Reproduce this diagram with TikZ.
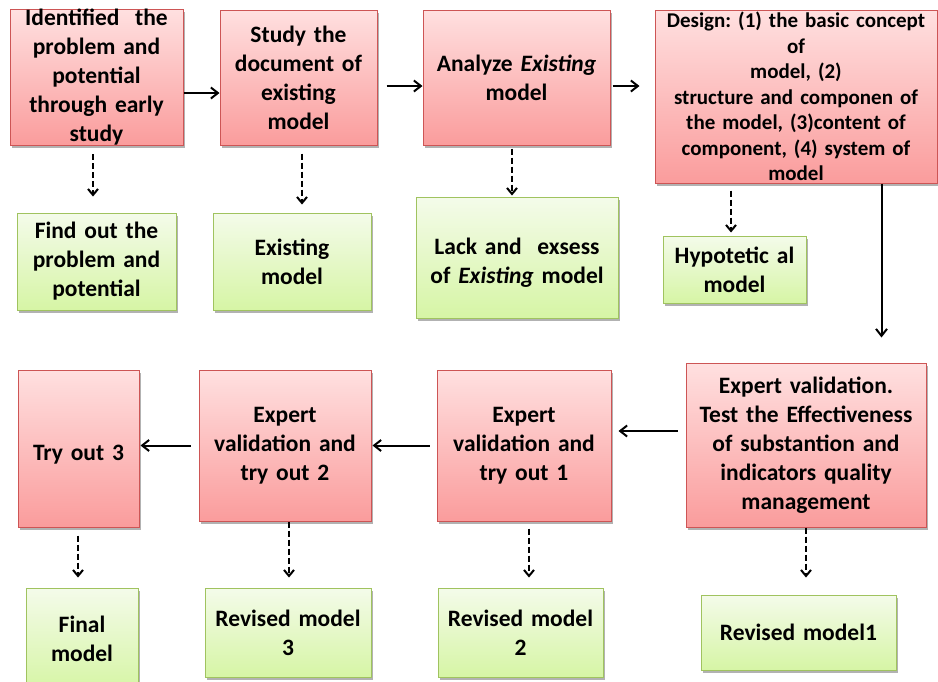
\documentclass[tikz,border=0pt]{standalone}
\usepackage{fontspec}
\setmainfont{Carlito}
\usetikzlibrary{arrows.meta,shadows}
\definecolor{pinkT}{RGB}{255,224,224}
\definecolor{pinkB}{RGB}{250,156,156}
\definecolor{pinkD}{RGB}{205,85,85}
\definecolor{grnT}{RGB}{244,251,234}
\definecolor{grnB}{RGB}{214,245,165}
\definecolor{grnD}{RGB}{160,195,95}
\newcommand\bx[7]{%
  \node[#2, minimum width=\dimexpr#5pt-#3pt\relax, minimum height=\dimexpr#6pt-#4pt\relax,
        text width=\dimexpr#5pt-#3pt-6pt\relax] (#1) at ({(#3+#5)/2},{(#4+#6)/2}) {#7};}
\begin{document}
\frenchspacing
\begin{tikzpicture}[x=1pt,y=-1pt,
  box/.style={line width=1pt, inner xsep=3pt, inner ysep=0pt, align=center,
    font=\bfseries\frenchspacing\fontsize{23.5}{29}\selectfont,
    drop shadow={shadow xshift=2pt,shadow yshift=-2.5pt,opacity=0.3,fill=black}},
  redbox/.style={box, draw=pinkD, top color=pinkT, bottom color=pinkB},
  grnbox/.style={box, draw=grnD, top color=grnT, bottom color=grnB},
  small/.style={font=\bfseries\frenchspacing\fontsize{21}{25.5}\selectfont},
  arr/.style={line width=2pt, -{Straight Barb[length=7pt,width=11pt,line width=2pt]}},
  darr/.style={line width=2pt, dash pattern=on 6pt off 3pt, -{Straight Barb[length=6pt,width=10pt,line width=2pt]}}
]
\useasboundingbox (0,0) rectangle (938,681);
% row 1
\bx{A}{redbox}{10}{10}{183}{145}{Identified\ \ the\\problem and\\potential\\through early\\study}
\bx{B}{redbox}{220}{10}{377}{145}{Study the\\document of\\existing\\model}
\bx{C}{redbox}{423}{10}{610}{145}{Analyze \textit{Existing}\\model}
\bx{D}{redbox,small}{655}{10}{937}{183}{Design: (1) the basic concept\\of\\model, (2)\\structure and componen of\\the model, (3)content of\\component, (4) system of\\model}
% row 2
\bx{E}{grnbox}{17}{213}{176}{310}{Find out the\\problem and\\potential}
\bx{F}{grnbox}{213}{213}{371}{310}{Existing\\model}
\bx{G}{grnbox}{416}{197}{618}{318}{\rule{0pt}{26pt}Lack and\ \ exsess\\of \textit{Existing} model}
\bx{H}{grnbox}{663}{236}{806}{303}{Hypotetic al\\model}
% row 3
\bx{I}{redbox}{686}{363}{926}{527}{Expert validation.\\Test the Effectiveness\\of substantion and\\indicators quality\\management}
\bx{J}{redbox}{437}{370}{611}{521}{Expert\\validation and\\try out 1}
\bx{K}{redbox}{199}{370}{371}{521}{Expert\\validation and\\try out 2}
\bx{L}{redbox}{18}{370}{139}{527}{\rule{0pt}{28pt}Try out 3}
% row 4
\bx{M}{grnbox}{26}{588}{138}{690}{Final\\model}
\bx{N}{grnbox}{205}{588}{371}{677}{Revised model\\3}
\bx{O}{grnbox}{438}{588}{603}{677}{Revised model\\2}
\bx{P}{grnbox}{701}{595}{896}{670}{Revised model1}
% horizontal arrows
\draw[arr] ([yshift=-15.5pt]A.east) -- ([yshift=-15.5pt]B.west);
\draw[arr, shorten <=9pt] ([yshift=-8.5pt]B.east) -- ([yshift=-8.5pt]C.west);
\draw[arr, shorten <=2pt, shorten >=15pt] ([yshift=-8.5pt]C.east) -- ([yshift=-8.5pt]C.east -| D.west);
\draw[arr, shorten <=8pt, shorten >=7pt] ([yshift=14pt]I.west) -- ([yshift=14pt]I.west -| J.east);
\draw[arr, shorten <=7pt, shorten >=1pt] (J.west) -- (J.west -| K.east);
\draw[arr, shorten <=8pt, shorten >=1pt] (K.west) -- (K.west -| L.east);
% vertical solid arrow
\draw[arr, shorten >=25pt] ([xshift=-56pt]D.south east) -- ([xshift=-56pt]D.south east |- I.north);
% dashed arrows
\draw[darr, shorten <=8pt, shorten >=16pt] ([xshift=-3.5pt]A.south) -- ([xshift=-3.5pt]A.south |- E.north);
\draw[darr, shorten <=8pt, shorten >=8pt] ([xshift=3.5pt]B.south) -- ([xshift=3.5pt]B.south |- F.north);
\draw[darr, shorten <=3pt, shorten >=1pt] ([xshift=-4.5pt]C.south) -- ([xshift=-4.5pt]C.south |- G.north);
\draw[darr, shorten <=7pt, shorten >=3pt] ([xshift=-65pt]D.south) -- ([xshift=-65pt]D.south |- H.north);
\draw[darr, shorten <=8pt, shorten >=10pt] ([xshift=-0.5pt]L.south) -- ([xshift=-0.5pt]L.south |- M.north);
\draw[darr, shorten <=0pt, shorten >=10pt] ([xshift=4pt]K.south) -- ([xshift=4pt]K.south |- N.north);
\draw[darr, shorten <=7pt, shorten >=10pt] ([xshift=5pt]J.south) -- ([xshift=5pt]J.south |- O.north);
\draw[darr, shorten <=0pt, shorten >=17pt] (I.south) -- (I.south |- P.north);
\end{tikzpicture}
\end{document}
